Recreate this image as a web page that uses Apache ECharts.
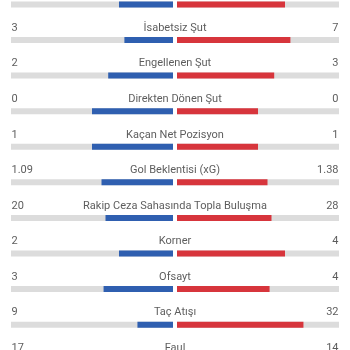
<!DOCTYPE html>
<html>
<head>
<meta charset="utf-8">
<script src="https://cdn.jsdelivr.net/npm/echarts@6/dist/echarts.min.js"></script>
<style>
    html, body { margin: 0; padding: 0; background: #fff; }
    #chart { width: 350px; height: 350px; }
</style>
</head>
<body>
<div id="chart"></div>
<script>
const categories = ['İsabetli Şut', 'İsabetsiz Şut', 'Engellenen Şut', 'Direkten Dönen Şut', 'Kaçan Net Pozisyon',
    'Gol Beklentisi (xG)', 'Rakip Ceza Sahasında Topla Buluşma', 'Korner', 'Ofsayt', 'Taç Atışı', 'Faul']
const homeValues = [2, 3, 2, 0, 1, 1.09, 20, 2, 3, 9, 17]
const awayValues = [4, 7, 3, 0, 1, 1.38, 28, 4, 4, 32, 14]

const BLUE = '#2f5fb0'
const RED = '#d7353c'
const TRACK = '#dcdcdc'

// share of the pair; 0-0 splits evenly
let share = (a, b) => (a + b === 0 ? 0.5 : a / (a + b))
let homeShare = homeValues.map((v, i) => share(v, awayValues[i]))
let awayShare = awayValues.map((v, i) => share(v, homeValues[i]))

const gridTop = -13.4
const gridHeight = categories.length * 35.59

let grid = (left, width) => ({
    left: left, width: width, top: gridTop, height: gridHeight,
    outerBoundsMode: 'none', containLabel: false
})
let yAxis = i => ({ gridIndex: i, type: 'category', data: categories, inverse: true, show: false })
let textStyle = { fontFamily: 'Roboto', fontSize: 11, color: '#333' }

let textSeries = (x, position, getText) => ({
    type: 'scatter',
    xAxisIndex: 0,
    yAxisIndex: 0,
    symbolSize: 1,
    itemStyle: { color: 'transparent' },
    silent: true,
    data: categories.map((c, i) => [x, i]),
    label: Object.assign({
        show: true,
        position: position,
        distance: 0,
        offset: [0, -12],
        formatter: p => getText(p.dataIndex)
    }, textStyle)
})

let barSeries = (axis, data, color) => ({
    type: 'bar',
    xAxisIndex: axis,
    yAxisIndex: axis,
    data: data,
    barWidth: 6,
    itemStyle: { color: color },
    showBackground: true,
    backgroundStyle: { color: TRACK },
    silent: true
})

let chart = echarts.init(document.getElementById('chart'))
chart.setOption({
    animation: false,
    grid: [grid(11, 328), grid(11, 162), grid(177, 162)],
    xAxis: [
        { gridIndex: 0, type: 'value', min: 0, max: 1, show: false },
        { gridIndex: 1, type: 'value', min: 0, max: 1, inverse: true, show: false },
        { gridIndex: 2, type: 'value', min: 0, max: 1, show: false }
    ],
    yAxis: [yAxis(0), yAxis(1), yAxis(2)],
    series: [
        barSeries(1, homeShare, BLUE),
        barSeries(2, awayShare, RED),
        textSeries(0, 'right', i => String(homeValues[i])),
        textSeries(0.5, 'inside', i => categories[i]),
        textSeries(1, 'left', i => String(awayValues[i]))
    ]
})
</script>
</body>
</html>
